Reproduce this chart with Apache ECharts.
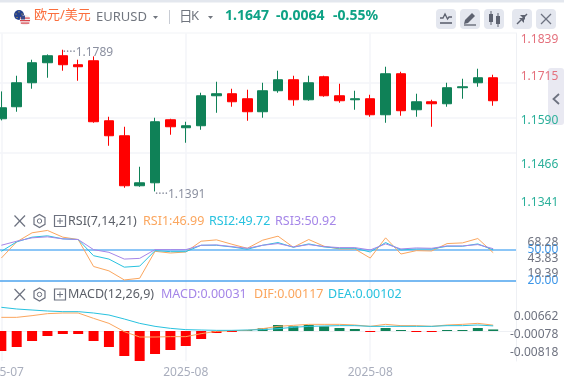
<!DOCTYPE html>
<html><head><meta charset="utf-8">
<style>html,body{margin:0;padding:0;background:#fff}#c{width:564px;height:381px}</style>
<script src="https://cdn.jsdelivr.net/npm/echarts@6/dist/echarts.min.js"></script>
</head><body><div id="c"></div>
<script>
const categories=['2025-07','','','','','','','','','','','','2025-08','','','','','','','','','','','','2025-08','','','','','','','','',''];
const opens =[1.15961,1.16304,1.16988,1.17559,1.17759,1.17502,1.17616,1.15904,1.15476,1.14050,1.14135,1.15933,1.15705,1.15762,1.16617,1.16675,1.16532,1.16161,1.16760,1.17074,1.16503,1.17160,1.16617,1.16503,1.16532,1.16075,1.17245,1.16218,1.16446,1.16389,1.16846,1.16988,1.17131];
const closes=[1.16275,1.16988,1.17559,1.17759,1.17502,1.17445,1.15876,1.15476,1.14050,1.14135,1.15876,1.15733,1.15762,1.16617,1.16675,1.16446,1.16161,1.16760,1.17074,1.16503,1.16988,1.16617,1.16475,1.16532,1.16075,1.17245,1.16190,1.16446,1.16389,1.16846,1.16874,1.17131,1.16475];
const lows  =[1.15914,1.16161,1.16817,1.17131,1.17331,1.17045,1.15847,1.15191,1.13993,1.14021,1.13888,1.15505,1.15277,1.15647,1.16132,1.16304,1.15904,1.15990,1.16703,1.16332,1.16475,1.16589,1.16418,1.16218,1.16018,1.15847,1.16047,1.16018,1.15733,1.16304,1.16532,1.16874,1.16332];
const highs =[1.16741,1.17188,1.17645,1.17797,1.17930,1.17645,1.17740,1.16018,1.15733,1.14592,1.15990,1.15961,1.15876,1.16703,1.17017,1.16817,1.16789,1.16988,1.17331,1.17188,1.17188,1.17188,1.16960,1.16760,1.16646,1.17445,1.17302,1.16675,1.16503,1.16988,1.17102,1.17388,1.17217];
const priceTicks=[1.1341,1.1466,1.1590,1.1715,1.1839];
const rsi1=[41.75,57.59,66.5,68.81,62.21,59.9,33.5,29.21,20.3,21.95,48.35,46.7,47.69,58.25,59.57,55.28,51.32,59.24,63.2,52.31,59.9,53.3,50.66,50.66,41.75,61.55,45.71,49.01,48.68,55.94,56.6,60.89,46.99];
const rsi2=[48.35,57.59,62.21,63.53,60.56,59.9,44.06,40.76,32.84,33.83,49.01,48.02,48.02,54.29,54.29,52.64,50.33,54.29,56.93,52.31,55.61,52.64,51.32,51.32,47.69,56.93,49.67,50.66,50.66,53.3,53.3,55.61,49.72];
const rsi3=[54.29,58.25,61.55,62.54,60.56,59.9,50,47.36,40.76,41.42,50,50,50,54.29,54.62,52.97,51.32,54.29,55.94,52.64,54.95,52.97,51.98,51.98,49.67,55.61,50.66,51.65,51.32,53.63,53.63,54.95,50.92];
const rsiLevels=[50,20];
const rsiScaleTicks=[68.28,43.83,19.39];
const dif=[.00273,.00273,.00307,.00347,.0036,.0036,.00253,.00153,-.00013,-.0012,-.0012,-.00113,-.00113,-.00053,-.00007,.00007,.00013,.00047,.00093,.00113,.00133,.00133,.00133,.0012,.00093,.00133,.00107,.00107,.00093,.0012,.00133,.00153,.00117];
const dea=[.00474,.0044,.0042,.004,.00387,.00387,.0036,.0032,.0024,.00153,.00093,.00053,.00027,.0002,.00013,.00013,.0002,.00027,.00047,.00073,.00093,.001,.00107,.00107,.00093,.00093,.00093,.00093,.00093,.00107,.00107,.0012,.00102];
const macd=[-.004,-.0032,-.002,-.001,-.0006,-.0006,-.002,-.0032,-.005,-.006,-.0046,-.0038,-.003,-.0016,-.0004,-.0002,.0001,.00053,.0012,.00093,.0012,.00093,.0006,.0004,-.0001,.0006,.0001,-.0001,-.0001,.0001,.0002,.0006,.00031];
const macdScaleTicks=[.00662,-.00078,-.00818];

const RED='#ff0000',GREEN='#0f8157',GRID='#f3f5f8',ORANGE='#fba65e',CYAN='#28c2df',PURPLE='#a586e8';
const gL=-6.355,gW=522.6;
const xa=(gi,showLabel)=>({type:'category',gridIndex:gi,data:categories,boundaryGap:true,
  axisLine:{show:showLabel,lineStyle:{color:'#eef0f4'}},axisTick:{show:false},
  axisLabel:{show:showLabel,interval:11,color:'#a9aebd',fontSize:12,fontFamily:'Noto Sans',margin:6,showMinLabel:true,hideOverlap:false},
  splitLine:{show:true,interval:11,alignWithLabel:true,lineStyle:{color:GRID,width:1.5}}});
const rLabel=(vals,color,fmt,extra)=>Object.assign({show:true,customValues:vals,color,fontSize:12,fontFamily:'Noto Sans',align:'right',margin:42,formatter:fmt},extra||{});
const ya=(gi,min,max,label,line)=>({type:'value',gridIndex:gi,position:'right',min,max,scale:true,z:60,
  axisLine:{show:!!line,lineStyle:{color:'#eef0f4'}},axisTick:{show:false},splitLine:{show:false},
  axisLabel:label||{show:false}});

const rsiLine=(name,d,color,extra)=>Object.assign({name,type:'line',xAxisIndex:1,yAxisIndex:1,data:d,symbol:'none',smooth:false,lineStyle:{color,width:1},z:4},extra||{});
const macdLine=(name,d,color)=>({name,type:'line',xAxisIndex:2,yAxisIndex:3,data:d,symbol:'none',lineStyle:{color,width:1},z:4});

const txt=(x,y,t,fill,size,extra)=>({type:'text',x,y,silent:true,z:50,style:Object.assign({text:t,fill,fontSize:size,fontFamily:'"Noto Sans","Noto Sans CJK SC"',verticalAlign:'middle',align:'left'},extra||{})});
const rect=(x,y,w,h,fill,r)=>({type:'rect',silent:true,z:40,shape:{x,y,width:w,height:h,r:r||0},style:{fill}});
const ln=(x1,y1,x2,y2,stroke,lw)=>({type:'line',silent:true,z:51,shape:{x1,y1,x2,y2},style:{stroke,lineWidth:lw||1,fill:null}});
const poly=(pts,fill,stroke,lw)=>({type:'polygon',silent:true,z:51,shape:{points:pts},style:{fill:fill||'none',stroke:stroke||'none',lineWidth:lw||1}});
const pline=(pts,stroke,lw)=>({type:'polyline',silent:true,z:51,shape:{points:pts},style:{fill:null,stroke,lineWidth:lw||1}});
const circ=(cx,cy,r,fill,stroke)=>({type:'circle',silent:true,z:51,shape:{cx,cy,r},style:{fill:fill||'none',stroke:stroke||'none'}});
const ICON='#6d7280';
function rowIcons(y){return [
  ln(14.5,y-5.5,25,y+5.5,ICON,1.2),ln(25,y-5.5,14.5,y+5.5,ICON,1.2),
  poly([[39.5,y-6.5],[45,y-3.3],[45,y+3.3],[39.5,y+6.5],[34,y+3.3],[34,y-3.3]],null,ICON,1.2),
  circ(39.5,y,2.2,null,ICON),
  {type:'rect',silent:true,z:51,shape:{x:54.5,y:y-5.5,width:11,height:11},style:{fill:'none',stroke:ICON,lineWidth:1.2}},
  ln(57,y,63,y,ICON,1),ln(60,y-3,60,y+3,ICON,1)];}
const BTN='#e4e7ef';
const graphics=[
  rect(0,0,564,2.5,'#e3e7ee'),
  ln(0,33,517,33,'#f1f3f6',1),
  rect(436,9,20,20,BTN,4),rect(460,9,20,20,BTN,4),rect(484,9,20,20,BTN,4),rect(512,9,20,20,BTN,4),rect(536,9,20,20,BTN,4),
  pline([[440,18],[443,18],[445,14],[447.5,19],[449,17],[452,17]],'#5d6270',1.3),ln(440,23,452,23,'#5d6270',1.6),
  poly([[464,24],[465,20],[472,13],[475,16],[468,23]],'#5d6270'),ln(464,25,476,25,'#5d6270',1.3),
  {type:'rect',silent:true,z:52,shape:{x:489,y:14,width:4,height:8},style:{fill:'#5d6270'}},ln(491,11,491,25,'#5d6270',1),
  {type:'rect',silent:true,z:52,shape:{x:496,y:16,width:4,height:8},style:{fill:'#5d6270'}},ln(498,13,498,27,'#5d6270',1),
  ln(517,24,521,20,'#5d6270',1.4),poly([[519,18],[524,18],[524,23]],'#5d6270'),ln(527,14,523,18,'#5d6270',1.4),poly([[520,15],[525,15],[525,20]],'#5d6270'),
  ln(541,14,551,24,'#6d7280',1.3),ln(551,14,541,24,'#6d7280',1.3),
  rect(548,68,16,57,'#e9e9f2',3),
  pline([[559,94],[553.5,99],[559,104]],'#6d7280',1.8),
  circ(19,15,5,'#24408e'),circ(19,11.8,.6,'#f2c230'),circ(22,14,.6,'#f2c230'),circ(16,14,.6,'#f2c230'),circ(21,17.5,.6,'#f2c230'),circ(17,17.5,.6,'#f2c230'),
  circ(25,20,5.3,'#f4eeee'),
  {type:'rect',silent:true,z:52,shape:{x:20.2,y:17.5,width:9.6,height:1.2},style:{fill:'#d8444c'}},
  {type:'rect',silent:true,z:52,shape:{x:20,y:20,width:10,height:1.2},style:{fill:'#d8444c'}},
  {type:'rect',silent:true,z:52,shape:{x:20.8,y:22.5,width:8.5,height:1.2},style:{fill:'#d8444c'}},
  {type:'rect',silent:true,z:53,shape:{x:21,y:15.5,width:4,height:4},style:{fill:'#3b4a8a'}},
  txt(34,15.5,'欧元/美元','#fb6e3d',13),
  txt(96,17,'EURUSD','#71767f',13),
  poly([[153,16],[158,16],[155.5,19]],'#71767f'),
  ln(169.5,10,169.5,24,'#c8ccd4',1),
  txt(179,16,'日','#71767f',13.5,{fontFamily:'"Noto Sans CJK SC"'}),txt(191,16,'K','#71767f',13),
  poly([[208,16],[213,16],[210.5,19]],'#71767f'),
  txt(225,16,'1.1647','#0ea285',14,{fontWeight:'bold'}),
  txt(276,16,'-0.0064','#0ea285',14,{fontWeight:'bold'}),
  txt(333,16,'-0.55%','#0ea285',14,{fontWeight:'bold'}),
  ...rowIcons(221),
  txt(68,221,'RSI(7,14,21)','#5c6069',12.5),
  txt(143,221,'RSI1:46.99',ORANGE,12.5),txt(209,221,'RSI2:49.72',CYAN,12.5),txt(275,221,'RSI3:50.92',PURPLE,12.5),
  ...rowIcons(294.5),
  txt(68,294.5,'MACD(12,26,9)','#5c6069',12.5),
  txt(161,294.5,'MACD:0.00031',PURPLE,12.5),txt(254,294.5,'DIF:0.00117',ORANGE,12.5),txt(328,294.5,'DEA:0.00102',CYAN,12.5)
];
const gridOf=(top,height)=>({left:gL,width:gW,top,height,containLabel:false,outerBoundsMode:'none'});
const option={
  animation:false,backgroundColor:'#fff',
  grid:[gridOf(33.6,174.6),gridOf(208.2,76.8),gridOf(285,76)],
  xAxis:[xa(0,false),xa(1,false),xa(2,true)],
  yAxis:[
    ya(0,1.1341,1.1839,rLabel(priceTicks,v=>v>1.165?'#e4707c':'#2bb09a',v=>(+v).toFixed(4),{verticalAlignMaxLabel:'top',verticalAlignMinLabel:'bottom'}),true),
    ya(1,15.35,90.59,rLabel(rsiLevels,'#3d96e8',v=>(+v).toFixed(2)),true),
    ya(1,2.13,121.78,rLabel(rsiScaleTicks,'#6f7380',v=>(+v).toFixed(2))),
    ya(2,-.006,.0092,null,true),
    ya(2,-.01155,.01951,rLabel(macdScaleTicks,'#6f7380',v=>(+v).toFixed(5)))
  ],
  series:[
    {type:'line',xAxisIndex:0,yAxisIndex:0,data:[],symbol:'none',z:1,silent:true,
     markLine:{z:1,silent:true,symbol:'none',animation:false,label:{show:false},lineStyle:{color:GRID,width:1.5,type:'solid'},data:priceTicks.slice(1,4).map(v=>({yAxis:v}))}},
    {type:'candlestick',xAxisIndex:0,yAxisIndex:0,z:3,barWidth:10,
     data:opens.map((o,i)=>[o,closes[i],lows[i],highs[i]]),
     itemStyle:{color:GREEN,color0:RED,borderColor:GREEN,borderColor0:RED,borderWidth:1},
     markPoint:{silent:true,animation:false,symbol:'circle',symbolSize:0,
       label:{show:true,position:'right',distance:0,offset:[0,2],fontFamily:'Noto Sans',fontSize:12,color:'#8b90a0',
         formatter:p=>p.name},
       data:[
        {name:'····1.1789',coord:[4,1.1790]},
        {name:'····1.1391',coord:[10,1.13865]}
       ]}},
    rsiLine('RSI1',rsi1,ORANGE,{markLine:{z:2,silent:true,symbol:'none',animation:false,label:{show:false},data:[
      {yAxis:rsiLevels[0],lineStyle:{color:'#8cc6f7',width:2,type:'solid'}},
      {yAxis:rsiLevels[1],lineStyle:{color:'#4da3ee',width:1.5,type:'solid'}}]}}),
    rsiLine('RSI2',rsi2,CYAN),
    rsiLine('RSI3',rsi3,PURPLE),
    {name:'MACD',type:'bar',xAxisIndex:2,yAxisIndex:3,barWidth:10,barMinHeight:1,z:3,
     data:macd,itemStyle:{color:p=>p.value>0?GREEN:RED}},
    macdLine('DIF',dif,ORANGE),
    macdLine('DEA',dea,CYAN)
  ],
  graphic:graphics
};
const chart=echarts.init(document.getElementById('c'),null,{renderer:'canvas'});
chart.setOption(option);
</script></body></html>
